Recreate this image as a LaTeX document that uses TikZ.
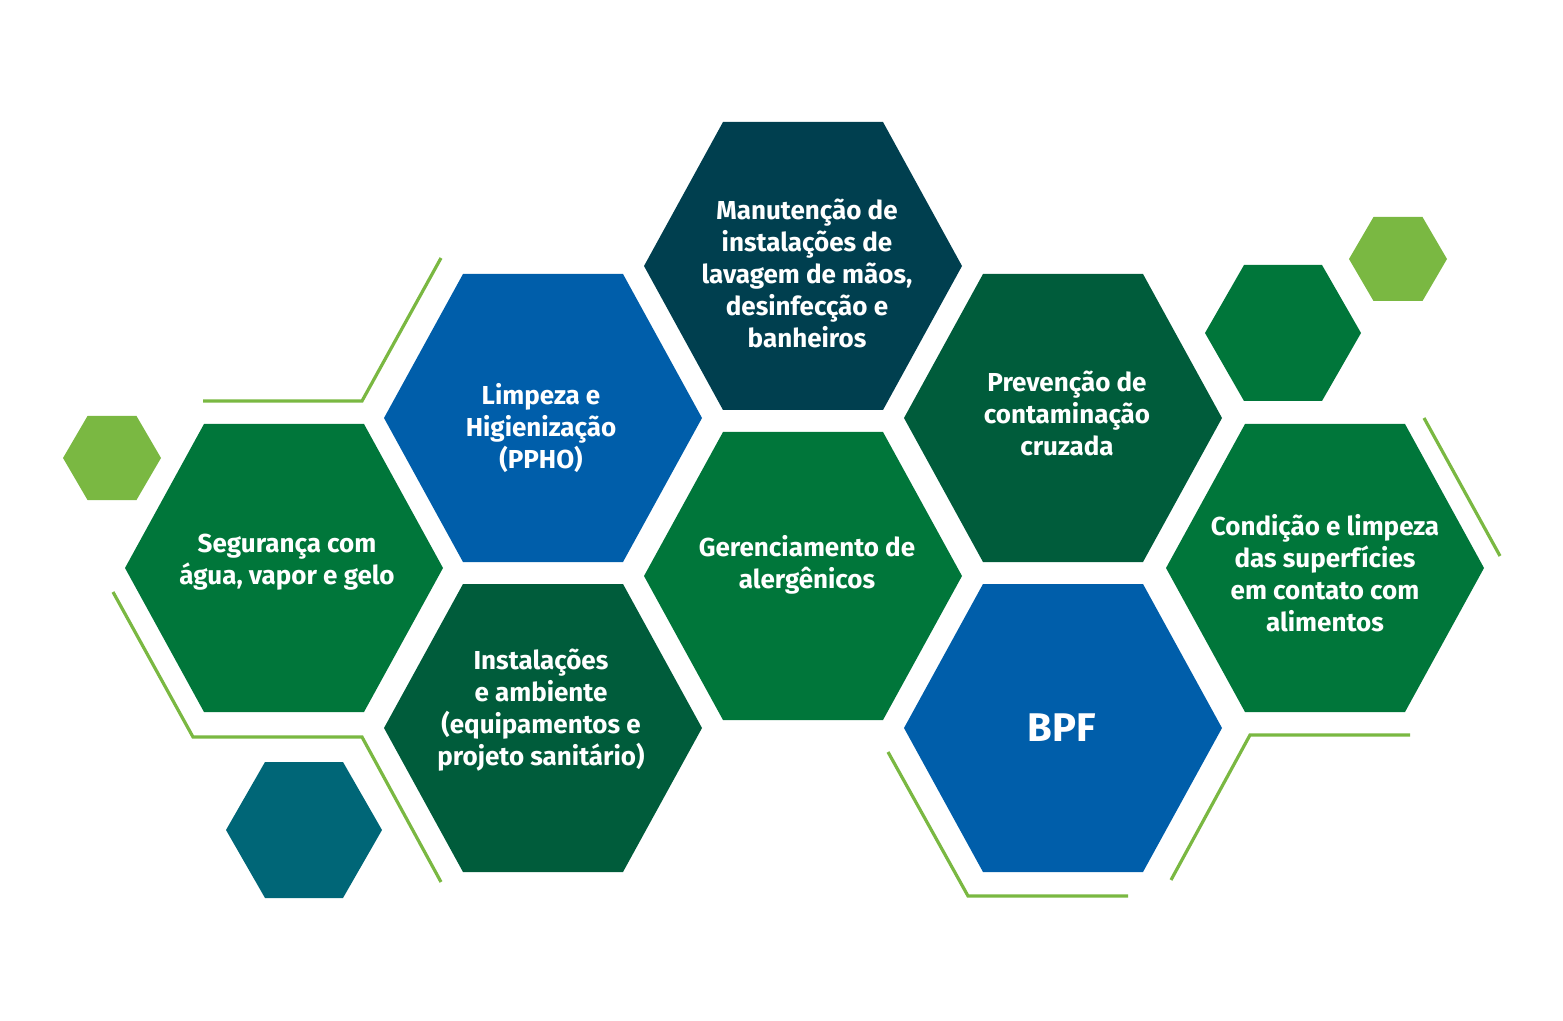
\documentclass[tikz,border=0pt]{standalone}
\usepackage{fontspec}
\setmainfont{Fira Sans}
\begin{document}
\begin{tikzpicture}[x=0.5pt,y=-0.5pt,
  lbl/.style={text=white,font=\bfseries\fontsize{13}{16}\selectfont,align=center},
  ln/.style={draw=lgreen,line width=1.6pt}]
\definecolor{green1}{HTML}{00763A}
\definecolor{dgreen}{HTML}{005C3B}
\definecolor{blue1}{HTML}{005EAA}
\definecolor{dteal}{HTML}{003F4F}
\definecolor{teal1}{HTML}{006677}
\definecolor{lgreen}{HTML}{7AB842}
\useasboundingbox (0,0) rectangle (1563,1021);
\newcommand{\bighex}[3]{\fill[#3] (#1-159,#2) -- (#1-80,#2-144) -- (#1+80,#2-144) -- (#1+159,#2) -- (#1+80,#2+144) -- (#1-80,#2+144) -- cycle;}
\newcommand{\hexs}[5]{\fill[#5] (#1-#3,#2) -- (#1-#3/2,#2-#4) -- (#1+#3/2,#2-#4) -- (#1+#3,#2) -- (#1+#3/2,#2+#4) -- (#1-#3/2,#2+#4) -- cycle;}
% lines
\coordinate (l1a) at (441,258); \coordinate (l1b) at (362,401); \coordinate (l1c) at (203,401);
\draw[ln] (l1a) -- (l1b) -- (l1c);
\coordinate (l2a) at (113,592); \coordinate (l2b) at (193,737); \coordinate (l2c) at (362,737); \coordinate (l2d) at (441,882);
\draw[ln] (l2a) -- (l2b) -- (l2c) -- (l2d);
\coordinate (l3a) at (1424,418); \coordinate (l3b) at (1500,556);
\draw[ln] (l3a) -- (l3b);
\coordinate (l4a) at (1410,735); \coordinate (l4b) at (1250,735); \coordinate (l4c) at (1171,880);
\draw[ln] (l4a) -- (l4b) -- (l4c);
\coordinate (l5a) at (888,752); \coordinate (l5b) at (968,896); \coordinate (l5c) at (1128,896);
\draw[ln] (l5a) -- (l5b) -- (l5c);
% big hexes
\bighex{284}{568}{green1}
\bighex{543}{418}{blue1}
\bighex{543}{728}{dgreen}
\bighex{803}{266}{dteal}
\bighex{803}{576}{green1}
\bighex{1063}{418}{dgreen}
\bighex{1063}{728}{blue1}
\bighex{1325}{568}{green1}
% small hexes
\hexs{112}{458}{49}{42}{lgreen}
\hexs{304}{830}{78}{68}{teal1}
\hexs{1283}{333}{78}{68}{green1}
\hexs{1398}{259}{49}{42}{lgreen}
% labels
\node[lbl] (seg) at (287,562) {Segurança com\\água, vapor e gelo};
\node[lbl] (lim) at (541,428) {Limpeza e\\Higienização\\(PPHO)};
\node[lbl] (ins) at (541,710) {Instalações\\e ambiente\\(equipamentos e\\projeto sanitário)};
\node[lbl] (man) at (807,273) {Manutenção de\\instalações de\\lavagem de mãos,\\desinfecção e\\banheiros};
\node[lbl] (ger) at (807,565) {Gerenciamento de\\alergênicos};
\node[lbl] (pre) at (1067,413) {Prevenção de\\contaminação\\cruzada};
\node[text=white,font=\bfseries\fontsize{20}{24}\selectfont] (bpf) at (1062,728) {BPF};
\node[lbl] (con) at (1325,573) {Condição e limpeza\\das superfícies\\em contato com\\alimentos};
\end{tikzpicture}
\end{document}
